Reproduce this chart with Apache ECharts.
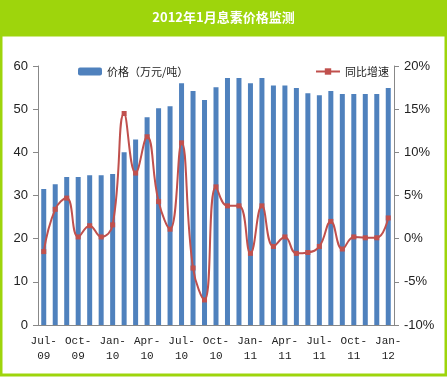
<!DOCTYPE html>
<html>
<head>
<meta charset="utf-8">
<script src="https://cdn.jsdelivr.net/npm/echarts@6/dist/echarts.min.js"></script>
<style>
html, body { margin: 0; padding: 0; background: #fff; }
#chart { width: 447px; height: 377px; }
</style>
</head>
<body>
<div id="chart"></div>
<script>
var months = ['Jul-09','Aug-09','Sep-09','Oct-09','Nov-09','Dec-09','Jan-10','Feb-10','Mar-10','Apr-10','May-10','Jun-10',
	'Jul-10','Aug-10','Sep-10','Oct-10','Nov-10','Dec-10','Jan-11','Feb-11','Mar-11','Apr-11','May-11','Jun-11',
	'Jul-11','Aug-11','Sep-11','Oct-11','Nov-11','Dec-11','Jan-12'];
var price = [31.5, 32.6, 34.3, 34.3, 34.7, 34.7, 35.0, 40.0, 43.0, 48.1, 50.2, 50.7,
	56.0, 54.2, 52.1, 55.1, 57.2, 57.2, 56.0, 57.2, 55.5, 55.5, 54.9, 53.7,
	53.2, 54.2, 53.5, 53.5, 53.5, 53.5, 54.9];
var growth = [-1.5, 3.4, 4.7, 0.2, 1.5, 0.2, 1.6, 14.5, 7.6, 11.8, 4.3, 1.1,
	11.1, -3.4, -7.1, 6.0, 3.8, 3.8, -1.7, 3.8, -0.9, 0.2, -1.7, -1.6,
	-0.9, 2.0, -1.2, 0.2, 0.1, 0.1, 2.4];
var priceName = '价格（万元/吨）';
var growthName = '同比增速';

var chart = echarts.init(document.getElementById('chart'));

var option = {
	animation: false,
	backgroundColor: '#fff',
	textStyle: { fontFamily: 'Liberation Sans' },
	graphic: [
		{ type: 'rect', shape: { x: 0, y: 0, width: 447, height: 35 }, style: { fill: '#9ed50c' } },
		{ type: 'rect', shape: { x: 1, y: 34, width: 445, height: 1.5 }, style: { fill: '#1a1a1a' } },
		{ type: 'rect', shape: { x: 1, y: 35, width: 445, height: 340 }, style: { fill: 'none', stroke: '#9ed50c', lineWidth: 3 } },
		{ type: 'text', left: 'center', top: 11, style: {
			text: '2012年1月息素价格监测', fill: '#fff', font: 'bold 13px "Noto Sans CJK SC"'
		} }
	],
	grid: { left: 38, right: 53, top: 66, bottom: 52 },
	legend: [
		{ data: [priceName], left: 73, top: 61, itemWidth: 24, itemHeight: 8, itemGap: 4,
		  textStyle: { fontSize: 11, color: '#222', fontFamily: 'Noto Sans CJK SC' } },
		{ data: [growthName], left: 310, top: 61, itemWidth: 24, itemHeight: 8,
		  textStyle: { fontSize: 11, color: '#222', fontFamily: 'Noto Sans CJK SC' } }
	],
	xAxis: {
		type: 'category',
		data: months,
		axisLine: { lineStyle: { color: '#888' } },
		axisTick: { interval: 2, length: 5, lineStyle: { color: '#888' } },
		axisLabel: {
			interval: 2, margin: 9, color: '#222', fontSize: 11, lineHeight: 15,
			fontFamily: 'Liberation Mono',
			formatter: function (v) { return v.replace('-', '-\n'); }
		}
	},
	yAxis: [
		{ type: 'value', min: 0, max: 60, interval: 10,
		  axisLine: { show: true, lineStyle: { color: '#888' } },
		  axisTick: { show: true, length: 5, lineStyle: { color: '#888' } },
		  axisLabel: { color: '#222', fontSize: 13, margin: 10 },
		  splitLine: { show: false } },
		{ type: 'value', min: -10, max: 20, interval: 5,
		  axisLine: { show: true, lineStyle: { color: '#888' } },
		  axisTick: { show: true, length: 5, lineStyle: { color: '#888' } },
		  axisLabel: { color: '#222', fontSize: 13, margin: 10, formatter: '{value}%' },
		  splitLine: { show: false } }
	],
	series: [
		{ name: priceName, type: 'bar', data: price, barWidth: 5, itemStyle: { color: '#4f81bd' } },
		{ name: growthName, type: 'line', yAxisIndex: 1, data: growth, smooth: 0.45,
		  symbol: 'rect', symbolSize: 5, showSymbol: true,
		  lineStyle: { color: '#c0504d', width: 2 }, itemStyle: { color: '#c0504d' } }
	]
};

chart.setOption(option);
</script>
</body>
</html>
